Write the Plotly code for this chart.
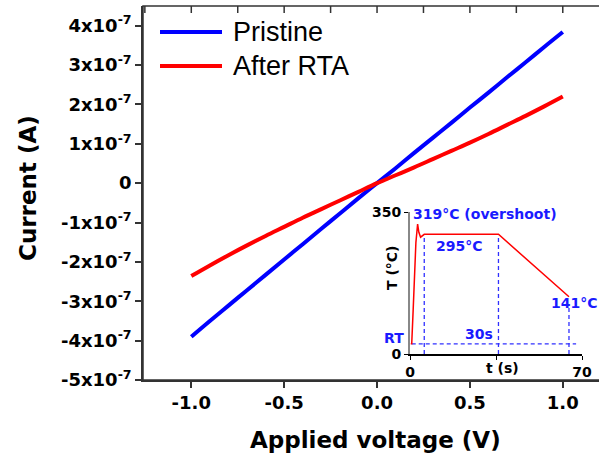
import plotly.graph_objects as go

# ---- main I-V data ----
voltage = [-1.0, -0.9, -0.8, -0.7, -0.6, -0.5, -0.4, -0.3, -0.2, -0.1, 0.0,
           0.1, 0.2, 0.3, 0.4, 0.5, 0.6, 0.7, 0.8, 0.9, 1.0]
pristine_e7 = [-3.90, -3.50, -3.11, -2.72, -2.33, -1.94, -1.55, -1.16, -0.77, -0.38, 0.0,
               0.38, 0.77, 1.15, 1.53, 1.92, 2.30, 2.69, 3.07, 3.46, 3.84]
after_rta_e7 = [-2.36, -2.09, -1.83, -1.58, -1.34, -1.11, -0.88, -0.66, -0.44, -0.22, 0.0,
                0.20, 0.40, 0.61, 0.82, 1.03, 1.25, 1.48, 1.71, 1.95, 2.20]
pristine = [v * 1e-7 for v in pristine_e7]
after_rta = [v * 1e-7 for v in after_rta_e7]

y_tickvals = [4e-7, 3e-7, 2e-7, 1e-7, 0, -1e-7, -2e-7, -3e-7, -4e-7, -5e-7]
y_ticktext = ["4x10<sup>-7</sup>", "3x10<sup>-7</sup>", "2x10<sup>-7</sup>", "1x10<sup>-7</sup>", "0",
              "-1x10<sup>-7</sup>", "-2x10<sup>-7</sup>", "-3x10<sup>-7</sup>", "-4x10<sup>-7</sup>",
              "-5x10<sup>-7</sup>"]
x_tickvals = [-1.0, -0.5, 0.0, 0.5, 1.0]
x_ticktext = ["-1.0", "-0.5", "0.0", "0.5", "1.0"]
top_tickvals = [-1.25, -1.0, -0.75, -0.5, -0.25, 0.0, 0.25, 0.5, 0.75, 1.0]
x_range = [-1.26, 1.195]
y_range = [-5e-7, 4.5e-7]

# ---- inset RTA temperature profile ----
t_s = [0.3, 0.7, 1.3, 1.8, 2.4, 3.1, 3.6, 4.3, 5.0, 5.8, 36.0, 64.7]
temp_c = [25, 25, 110, 200, 275, 320, 300, 288, 292, 295, 295, 141]

BOLD = "DejaVu Sans"
blue_txt = "#1a1aff"
dash_col = "#3030ff"

fig = go.Figure()
fig.add_trace(go.Scatter(x=voltage, y=pristine, mode="lines", name="Pristine",
                         line=dict(color="#0000ff", width=4, shape="spline"), xaxis="x", yaxis="y"))
fig.add_trace(go.Scatter(x=voltage, y=after_rta, mode="lines", name="After RTA",
                         line=dict(color="#ff0000", width=4, shape="spline"), xaxis="x", yaxis="y"))

# inset dashed guides
for xs, ys in [([5.8, 5.8], [0, 295]), ([36, 36], [0, 295]), ([64.7, 64.7], [0, 115]),
               ([0.7, 67.6], [25, 25])]:
    fig.add_trace(go.Scatter(x=xs, y=ys, mode="lines", showlegend=False,
                             line=dict(color=dash_col, width=1.3, dash="4px,3px"),
                             xaxis="x2", yaxis="y2"))
fig.add_trace(go.Scatter(x=t_s, y=temp_c, mode="lines", showlegend=False,
                         line=dict(color="#ff0000", width=1.5), xaxis="x2", yaxis="y2"))

W, H = 599, 463
L, R, T, B = 143, 0, 6, 83
pw, ph = W - L - R, H - T - B


def px(x):
    return (x - L) / pw


def py(y):
    return (H - B - y) / ph


fig.update_layout(
    width=W, height=H,
    margin=dict(l=L, r=R, t=T, b=B, autoexpand=False),
    paper_bgcolor="white", plot_bgcolor="white",
    showlegend=False,
    xaxis=dict(domain=[0, 1], range=x_range, tickvals=x_tickvals, ticktext=x_ticktext,
               ticks="outside", ticklen=6, tickwidth=1.5, tickcolor="#333", automargin=False,
               showline=True, linecolor="#333", linewidth=1.5,
               showgrid=False, zeroline=False,
               tickfont=dict(family=BOLD, size=18, color="black", weight="bold")),
    yaxis=dict(domain=[0, 1], range=y_range, tickvals=y_tickvals, ticktext=y_ticktext,
               ticks="outside", ticklen=6, tickwidth=1.5, tickcolor="#333", automargin=False,
               showline=True, linecolor="#333", linewidth=1.5, showgrid=False, zeroline=False,
               tickfont=dict(family=BOLD, size=18, color="black", weight="bold")),
    xaxis2=dict(domain=[px(410), px(582)], anchor="y2", range=[0, 70], automargin=False,
                tickvals=[0, 35, 70], ticktext=["0", "", "70"],
                ticks="outside", ticklen=4, tickwidth=1, tickcolor="black",
                showline=True, linecolor="black", linewidth=1.5, showgrid=False, zeroline=False,
                tickfont=dict(family=BOLD, size=14, color="black", weight="bold")),
    yaxis2=dict(domain=[py(354), py(212)], anchor="x2", range=[0, 350], automargin=False,
                tickvals=[0, 350], ticktext=["0", "350"],
                ticks="outside", ticklen=4, tickwidth=1, tickcolor="black",
                showline=True, linecolor="#888", linewidth=2, showgrid=False, zeroline=False,
                tickfont=dict(family=BOLD, size=14, color="black", weight="bold")),
)

shapes = []
anns = []
# frame of the plot area (right side pushed past the page edge, as in the reference)
shapes.append(dict(type="rect", xref="paper", yref="paper", x0=0, x1=1.05, y0=0, y1=1,
                   line=dict(color="#333", width=1.5), fillcolor="rgba(0,0,0,0)", layer="above"))
# inward tick marks on the top axis
for tv in top_tickvals:
    shapes.append(dict(type="line", xref="x", yref="paper", x0=tv, x1=tv,
                       y0=1, y1=1 - 7 / ph, line=dict(color="#333", width=1.5), layer="above"))

# axis titles
anns.append(dict(text="Applied voltage (V)", xref="paper", yref="paper", x=px(375), y=py(440),
                 xanchor="center", yanchor="middle", showarrow=False,
                 font=dict(family=BOLD, size=23, color="black", weight="bold")))
anns.append(dict(text="Current (A)", xref="paper", yref="paper", x=px(28), y=py(188),
                 xanchor="center", yanchor="middle", showarrow=False, textangle=-90,
                 font=dict(family=BOLD, size=23, color="black", weight="bold")))

# manual legend
for yy, col, name in [(32, "#0000ff", "Pristine"), (66, "#ff0000", "After RTA")]:
    shapes.append(dict(type="line", xref="paper", yref="paper", x0=px(160), x1=px(222),
                       y0=py(yy), y1=py(yy), line=dict(color=col, width=4)))
    anns.append(dict(text=name, xref="paper", yref="paper", x=px(231), y=py(yy),
                     xanchor="left", yanchor="middle", showarrow=False,
                     font=dict(family="Liberation Sans", size=27, color="black")))

# inset labels
blue_font = dict(family=BOLD, size=14, color=blue_txt, weight="bold")
for text, x, y, xa in [("319°C (overshoot)", 0.6, 346, "left"), ("295°C", 20.3, 265, "center"),
                       ("141°C", 67, 125, "center"), ("30s", 28, 49, "center")]:
    anns.append(dict(text=text, xref="x2", yref="y2", x=x, y=y, xanchor=xa, yanchor="middle",
                     showarrow=False, font=blue_font))
anns.append(dict(text="RT", xref="paper", yref="paper", x=px(406), y=py(338),
                 xanchor="right", yanchor="middle", showarrow=False, font=blue_font))
anns.append(dict(text="t (s)", xref="paper", yref="paper", x=px(502), y=py(368),
                 xanchor="center", yanchor="middle", showarrow=False,
                 font=dict(family=BOLD, size=14, color="black", weight="bold")))
anns.append(dict(text="T (°C)", xref="paper", yref="paper", x=px(392), y=py(268),
                 xanchor="center", yanchor="middle", showarrow=False, textangle=-90,
                 font=dict(family=BOLD, size=14, color="black", weight="bold")))
fig.update_layout(shapes=shapes, annotations=anns)

fig.write_html("out.html", config={"displayModeBar": False})
